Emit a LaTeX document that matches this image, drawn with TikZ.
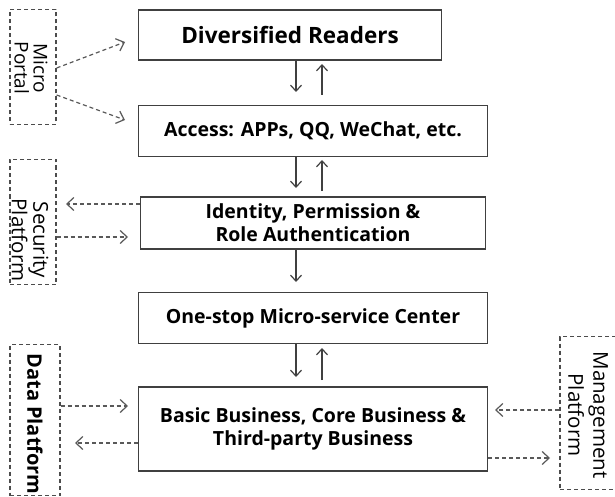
\documentclass[tikz,border=0pt]{standalone}
\usepackage{fontspec}
\setmainfont{Open Sans}
\usetikzlibrary{arrows.meta}
\begin{document}
\begin{tikzpicture}[x=1pt,y=-1pt,
  mainbox/.style={draw=black!75,line width=1.6pt,fill=white,font=\bfseries\fontsize{19.5}{23}\selectfont,align=center,inner sep=0pt},
  sidebox/.style={draw=black!70,dashed,dash pattern=on 4pt off 3pt,line width=1.3pt,inner sep=0pt},
  sidelabel/.style={rotate=-90,align=center},
  flow/.style={draw=black!75,line width=1.2pt,-{Straight Barb[length=6pt,width=11pt]}},
  side/.style={draw=black!65,line width=1.2pt,dash pattern=on 4pt off 3pt,-{Straight Barb[length=7pt,width=13pt]}}]
\useasboundingbox (0,0) rectangle (615,497);
% main boxes
\node[mainbox,minimum width=303pt,minimum height=50pt,font=\bfseries\fontsize{22.5}{26}\selectfont] (r) at (290,35) {Diversified Readers};
\node[mainbox,minimum width=349pt,minimum height=51pt] (a) at (313,131) {Access: APPs, QQ, WeChat, etc.};
\node[mainbox,minimum width=345pt,minimum height=52pt] (i) at (313,223) {Identity, Permission \&\\Role Authentication};
\node[mainbox,minimum width=349pt,minimum height=51pt] (o) at (313,318) {One-stop Micro-service Center};
\node[mainbox,minimum width=349pt,minimum height=84pt] (b) at (313,429) {Basic Business, Core Business \&\\Third-party Business};
% side boxes
\node[sidebox,minimum width=46pt,minimum height=115pt] (mp) at (33,67) {};
\node[sidelabel,font=\fontsize{19}{19}\selectfont] at (31,68) {Micro\\Portal};
\node[sidebox,minimum width=46pt,minimum height=125pt] (sp) at (33,222) {};
\node[sidelabel,font=\fontsize{20.5}{20}\selectfont] at (30,240) {Security\\Platform};
\node[sidebox,minimum width=50pt,minimum height=151pt] (dp) at (35,420) {};
\node[sidelabel,font=\bfseries\fontsize{20}{22}\selectfont] at (35,424) {Data Platform};
\node[sidebox,minimum width=60pt,minimum height=153pt] (mg) at (590,413) {};
\node[sidelabel,font=\fontsize{20.5}{25}\selectfont] at (588,415) {Management\\Platform};
% coordinates for vertical flows
\coordinate (d1s) at (296,60); \coordinate (d1e) at (296,92);
\coordinate (u1s) at (322,95); \coordinate (u1e) at (322,64);
\coordinate (d2s) at (296,157); \coordinate (d2e) at (296,188);
\coordinate (u2s) at (322,191); \coordinate (u2e) at (322,160);
\coordinate (d3s) at (296,249); \coordinate (d3e) at (296,282);
\coordinate (d4s) at (296,344); \coordinate (d4e) at (296,377);
\coordinate (u4s) at (322,380); \coordinate (u4e) at (322,348);
\draw[flow] (d1s) -- (d1e);
\draw[flow] (u1s) -- (u1e);
\draw[flow] (d2s) -- (d2e);
\draw[flow] (u2s) -- (u2e);
\draw[flow] (d3s) -- (d3e);
\draw[flow] (d4s) -- (d4e);
\draw[flow] (u4s) -- (u4e);
% side connectors
\draw[side] (mp.east |- 0,68) -- (125,42);
\draw[side] (mp.east |- 0,95) -- (125,120);
\draw[side] (i.west |- 0,204) -- (66,204);
\draw[side] (sp.east |- 0,237) -- (128,237);
\draw[side] (dp.east |- 0,406) -- (128,406);
\draw[side] (b.west |- 0,443) -- (75,443);
\draw[side] (mg.west |- 0,410) -- (495,410);
\draw[side] (b.east |- 0,458) -- (550,458);
\end{tikzpicture}
\end{document}
